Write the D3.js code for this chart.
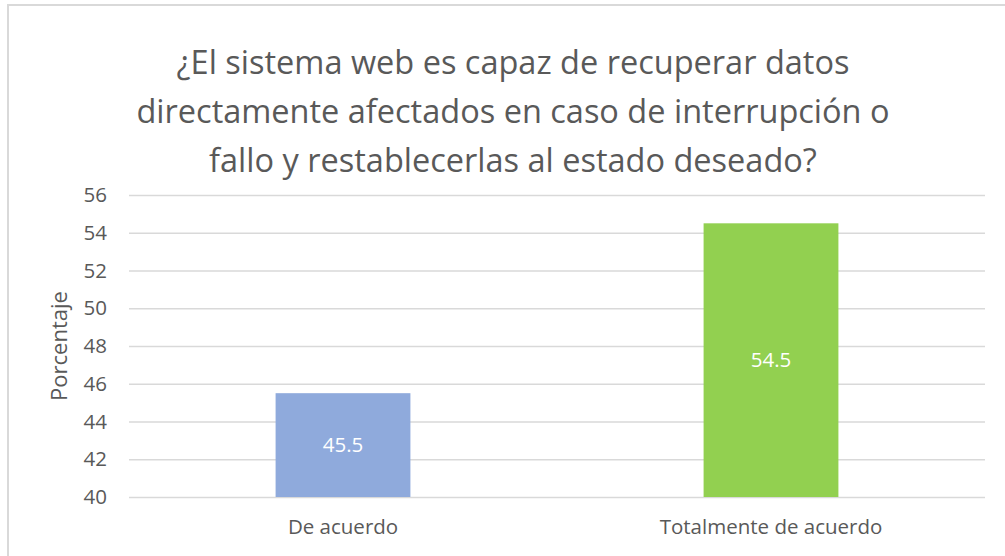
<!DOCTYPE html>
<html>
<head>
<meta charset="utf-8">
<script src="https://cdn.jsdelivr.net/npm/d3@7"></script>
<style>
  body { margin: 0; background: #fff; }
  text { font-family: "Open Sans", sans-serif; fill: #595959; }
</style>
</head>
<body>
<div id="wrapper"></div>
<script>
// data
const categories = ["De acuerdo", "Totalmente de acuerdo"];
const values = [45.5, 54.5];
const barColors = ["#8faadc", "#92d050"];
const yTicks = [40, 42, 44, 46, 48, 50, 52, 54, 56];
const titleLines = [
  "¿El sistema web es capaz de recuperar datos",
  "directamente afectados en caso de interrupción o",
  "fallo y restablecerlas al estado deseado?",
];
const yLabel = "Porcentaje";

function drawBars() {
  const dimensions = {
    width: 1005,
    height: 556,
    margin: { top: 195, right: 20, bottom: 59, left: 129 },
  };
  dimensions.boundedWidth =
    dimensions.width - dimensions.margin.left - dimensions.margin.right;
  dimensions.boundedHeight =
    dimensions.height - dimensions.margin.top - dimensions.margin.bottom;

  const wrapper = d3
    .select("#wrapper")
    .append("svg")
    .attr("width", dimensions.width)
    .attr("height", dimensions.height);

  // chart frame
  wrapper
    .append("rect")
    .attr("x", 8)
    .attr("y", 5)
    .attr("width", 1010)
    .attr("height", 570)
    .attr("fill", "#fff")
    .attr("stroke", "#d9d9d9")
    .attr("stroke-width", 2);

  // title
  wrapper
    .append("g")
    .selectAll("text")
    .data(titleLines)
    .join("text")
    .attr("x", 513)
    .attr("y", (d, i) => 74 + i * 49)
    .attr("text-anchor", "middle")
    .style("font-size", "32.5px")
    .text((d) => d);

  const bounds = wrapper
    .append("g")
    .attr("transform", `translate(${dimensions.margin.left},${dimensions.margin.top})`);

  // scales
  const xScale = d3
    .scaleBand()
    .domain(categories)
    .range([0, dimensions.boundedWidth])
    .paddingInner(0.685)
    .paddingOuter(0.3425);

  const yScale = d3
    .scaleLinear()
    .domain([40, 56])
    .range([dimensions.boundedHeight, 0]);

  // gridlines + y ticks
  const yAxis = bounds
    .append("g")
    .call(
      d3.axisLeft(yScale)
        .tickValues(yTicks)
        .tickSize(-dimensions.boundedWidth)
        .tickPadding(22)
    );
  yAxis.select(".domain").remove();
  yAxis.selectAll(".tick line").attr("stroke", "#d9d9d9").attr("stroke-width", 1.5);
  yAxis
    .selectAll(".tick text")
    .style("font-size", "20.5px")
    .style("font-family", "'Open Sans', sans-serif")
    .attr("fill", "#595959");

  // bars
  const data = categories.map((c, i) => ({ cat: c, value: values[i], color: barColors[i] }));

  bounds
    .append("g")
    .selectAll("rect")
    .data(data)
    .join("rect")
    .attr("x", (d) => xScale(d.cat))
    .attr("y", (d) => yScale(d.value))
    .attr("width", xScale.bandwidth())
    .attr("height", (d) => yScale(40) - yScale(d.value))
    .attr("fill", (d) => d.color);

  // data labels
  bounds
    .append("g")
    .selectAll("text")
    .data(data)
    .join("text")
    .attr("x", (d) => xScale(d.cat) + xScale.bandwidth() / 2)
    .attr("y", (d) => (yScale(d.value) + yScale(40)) / 2)
    .attr("dy", "0.35em")
    .attr("text-anchor", "middle")
    .style("font-size", "20.5px")
    .style("fill", "#fff")
    .text((d) => d.value);

  // x axis labels
  const xAxis = bounds
    .append("g")
    .attr("transform", `translate(0,${dimensions.boundedHeight})`)
    .call(d3.axisBottom(xScale).tickSize(0).tickPadding(22));
  xAxis.select(".domain").remove();
  xAxis
    .selectAll(".tick text")
    .style("font-size", "20.5px")
    .style("font-family", "'Open Sans', sans-serif")
    .attr("fill", "#595959");

  // y axis title
  wrapper
    .append("text")
    .attr("transform", `translate(67, 346) rotate(-90)`)
    .attr("text-anchor", "middle")
    .style("font-size", "22px")
    .text(yLabel);
}
drawBars();
</script>
</body>
</html>
